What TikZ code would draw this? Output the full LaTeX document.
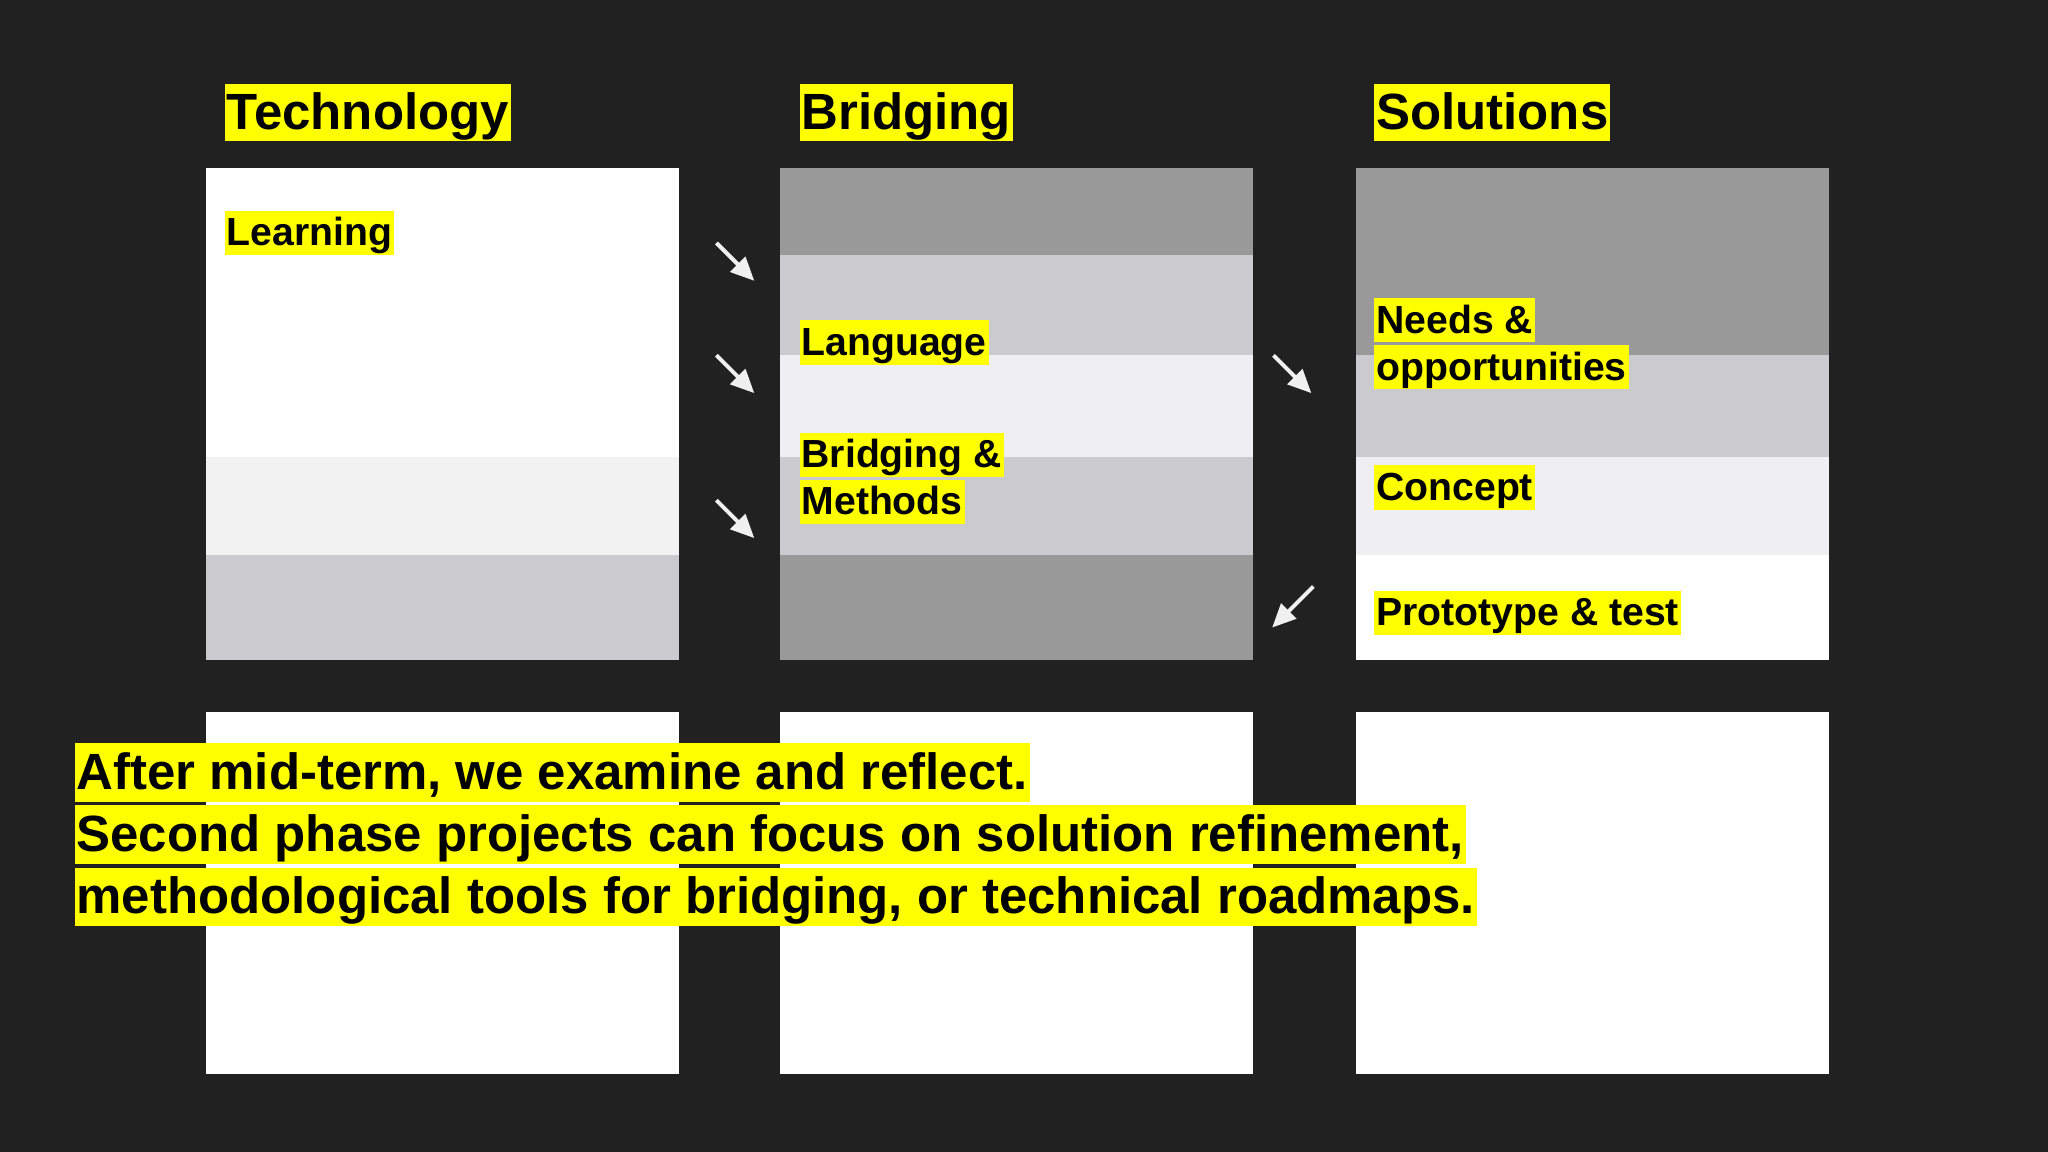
\documentclass[tikz,border=0pt]{standalone}
\usepackage{fontspec}
\setmainfont{Liberation Sans}
\usetikzlibrary{arrows.meta}

\definecolor{slide}{HTML}{212121}
\definecolor{marker}{HTML}{FFFF00}
\definecolor{darkband}{HTML}{9A999A}
\definecolor{midband}{HTML}{CBCACC}
\definecolor{lightband}{HTML}{EFEEF0}
\definecolor{paleband}{HTML}{F2F2F3}
\definecolor{pointer}{HTML}{F0F0F0}

\begin{document}
\begin{tikzpicture}[x=1pt, y=-1pt]
    % Setup the styles for the highlighted texts and the arrows
    \tikzset{marked/.style={fill=marker, text=black, anchor=north west,
                            inner xsep=1.5pt, inner ysep=0pt},
             heading/.style={marked, font=\bfseries\fontsize{39}{44}\selectfont,
                             text height=35pt, text depth=9pt},
             tag/.style={marked, font=\bfseries\fontsize{30}{34}\selectfont,
                         text height=27pt, text depth=7pt},
             note/.style={marked, font=\bfseries\fontsize{39}{45}\selectfont,
                          text height=35.5pt, text depth=9.5pt},
             flow/.style={pointer, line width=3pt,
                          -{Triangle[length=18pt, width=16pt]}}}

    % Background of the slide
    \fill[slide] (0,0) rectangle (1568,882);
    \useasboundingbox (0,0) rectangle (1568,882);

    % Draw the three upper panels band by band
    \foreach \x/\ya/\yb/\c in {158/129/350/white, 158/350/425/paleband,
                               158/425/505/midband,
                               597/129/195/darkband, 597/195/272/midband,
                               597/272/350/lightband, 597/350/425/midband,
                               597/425/505/darkband,
                               1038/129/272/darkband, 1038/272/350/midband,
                               1038/350/425/lightband, 1038/425/505/white}
        \fill[\c] (\x,\ya) rectangle (\x+362,\yb);

    % Draw the three lower panels
    \foreach \x in {158, 597, 1038}
        \fill[white] (\x,545) rectangle (\x+362,822);

    % Headings
    \node[heading] at (172,64)  (technology) {Technology};
    \node[heading] at (612,64)  (bridging)   {Bridging};
    \node[heading] at (1052,64) (solutions)  {Solutions};

    % Labels inside the panels
    \node[tag] at (172,161)  (learning) {Learning};
    \node[tag] at (612,245)  (language) {Language};
    \node[tag] at (612,331)  (bridgeA)  {Bridging \&};
    \node[tag] at (612,367)  (bridgeB)  {Methods};
    \node[tag] at (1052,228) (needsA)   {Needs \&};
    \node[tag] at (1052,264) (needsB)   {opportunities};
    \node[tag] at (1052,356) (concept)  {Concept};
    \node[tag] at (1052,452) (proto)    {Prototype \& test};

    % Arrow ends
    \coordinate (techA)  at (548.5,186);  \coordinate (bridgeInA) at (577.5,215);
    \coordinate (techB)  at (548.5,272);  \coordinate (bridgeInB) at (577.5,301);
    \coordinate (techC)  at (548.5,383);  \coordinate (bridgeInC) at (577.5,412);
    \coordinate (bridgeOut) at (975,272); \coordinate (solIn)    at (1004,301);
    \coordinate (solOut)    at (1005.5,449); \coordinate (bridgeBack) at (974,480.5);

    % Connect the panels with arrows
    \draw[flow] (techA)     -- (bridgeInA);
    \draw[flow] (techB)     -- (bridgeInB);
    \draw[flow] (techC)     -- (bridgeInC);
    \draw[flow] (bridgeOut) -- (solIn);
    \draw[flow] (solOut)    -- (bridgeBack);

    % Closing remark over the lower panels
    \node[note] at (57,569)   (remarkA) {After mid-term, we examine and reflect.};
    \node[note] at (57,616.5) (remarkB) {Second phase projects can focus on solution refinement,};
    \node[note] at (57,664)   (remarkC) {methodological tools for bridging, or technical roadmaps.};
\end{tikzpicture}
\end{document}
